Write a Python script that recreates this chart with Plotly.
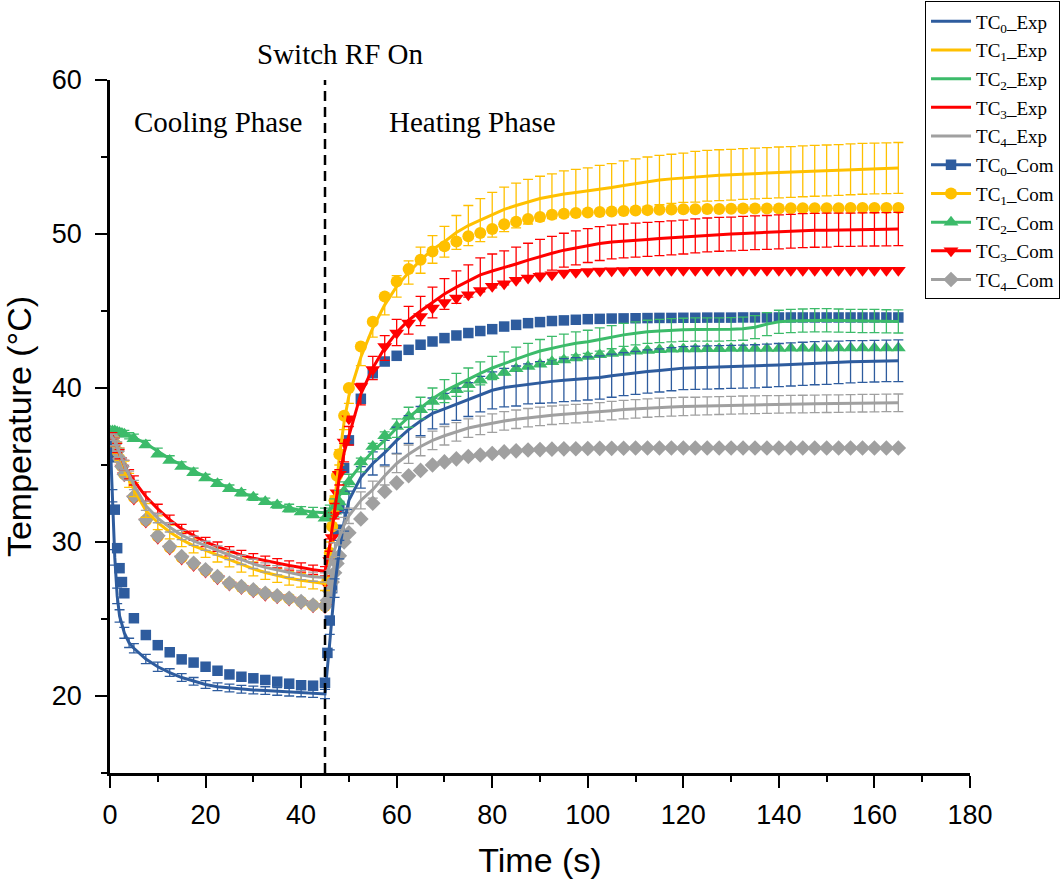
import plotly.graph_objects as go

# time axes (s)
t_exp = [0, 0.5, 1, 1.5, 2, 3, 4, 5, 7.5, 10, 12.5, 15, 17.5, 20, 22.5, 25, 27.5, 30, 32.5, 35, 37.5, 40, 42.5, 45,
         46, 47, 48, 49, 50,
         52.5, 55, 57.5, 60, 62.5, 65, 67.5, 70, 72.5, 75, 77.5, 80, 82.5, 85, 87.5, 90, 92.5, 95, 97.5, 100,
         102.5, 105, 107.5, 110, 112.5, 115, 117.5, 120, 122.5, 125, 127.5, 130, 132.5, 135, 137.5, 140, 142.5, 145, 147.5, 150,
         152.5, 155, 157.5, 160, 162.5, 165]

t_com = [0, 0.5, 1, 1.5, 2, 2.5, 3, 5, 7.5, 10, 12.5, 15, 17.5, 20, 22.5, 25, 27.5, 30, 32.5, 35, 37.5, 40, 42.5, 45,
         45.5, 46, 46.5, 47, 47.5, 48, 49, 50,
         52.5, 55, 57.5, 60, 62.5, 65, 67.5, 70, 72.5, 75, 77.5, 80, 82.5, 85, 87.5, 90, 92.5, 95, 97.5, 100,
         102.5, 105, 107.5, 110, 112.5, 115, 117.5, 120, 122.5, 125, 127.5, 130, 132.5, 135, 137.5, 140, 142.5, 145, 147.5, 150,
         152.5, 155, 157.5, 160, 162.5, 165]

# measured temperatures (deg C) and standard deviations
tc0_exp = [37.0, 33.0, 29.0, 26.5, 25.2, 24.1, 23.45, 23.1, 22.4, 21.9, 21.52, 21.2, 20.95, 20.75, 20.6, 20.52, 20.44, 20.39, 20.35, 20.3, 20.25, 20.2, 20.16, 20.13,
           23.5, 27.0, 29.5, 31.3, 32.7,
           34.2, 35.1, 35.8, 36.6, 37.3, 37.85, 38.35, 38.65, 38.95, 39.25, 39.6, 39.85, 40.03, 40.13, 40.27, 40.36, 40.43, 40.51, 40.57, 40.62,
           40.68, 40.8, 40.9, 40.98, 41.07, 41.14, 41.22, 41.29, 41.31, 41.33, 41.35, 41.37, 41.39, 41.41, 41.45, 41.49, 41.53, 41.57, 41.61, 41.64,
           41.67, 41.7, 41.72, 41.74, 41.76, 41.77]
tc0_err = [0, 0.4, 0.5, 0.5, 0.4, 0.35, 0.3, 0.3, 0.3, 0.3, 0.25, 0.25, 0.25, 0.25, 0.25, 0.25, 0.25, 0.25, 0.25, 0.25, 0.25, 0.25, 0.25, 0.3,
           0.5, 0.6, 0.6, 0.6, 0.6,
           0.7, 0.75, 0.8, 0.85, 0.9, 0.95, 1.0, 1.0, 1.05, 1.1, 1.15, 1.2, 1.25, 1.3, 1.3, 1.35, 1.4, 1.4, 1.4, 1.4,
           1.4, 1.4, 1.4, 1.4, 1.4, 1.4, 1.4, 1.4, 1.4, 1.4, 1.4, 1.4, 1.4, 1.4, 1.4, 1.4, 1.4, 1.4, 1.4, 1.4,
           1.38, 1.37, 1.36, 1.35, 1.35, 1.35]

tc1_exp = [37.0, 36.8, 36.5, 36.1, 35.7, 34.8, 34.0, 33.4, 32.05, 31.25, 30.65, 30.15, 29.75, 29.45, 29.15, 28.84, 28.5, 28.25, 28.02, 27.83, 27.65, 27.52, 27.4, 27.3,
           29.5, 32.5, 35.5, 37.8, 39.5,
           42.0, 43.9, 45.4, 46.6, 47.5, 48.3, 49.0, 49.5, 50.1, 50.55, 50.9, 51.25, 51.6, 51.85, 52.1, 52.3, 52.45, 52.6, 52.7, 52.8,
           52.9, 53.02, 53.15, 53.28, 53.4, 53.5, 53.58, 53.65, 53.72, 53.78, 53.82, 53.85, 53.9, 53.93, 53.96, 54.0, 54.03, 54.07, 54.1, 54.13,
           54.16, 54.2, 54.23, 54.25, 54.27, 54.29]
tc1_err = [0, 0.2, 0.3, 0.35, 0.4, 0.45, 0.45, 0.45, 0.45, 0.45, 0.45, 0.45, 0.45, 0.45, 0.45, 0.45, 0.45, 0.45, 0.45, 0.45, 0.45, 0.45, 0.45, 0.45,
           0.5, 0.5, 0.5, 0.5, 0.5,
           0.55, 0.6, 0.65, 0.7, 0.75, 0.85, 0.9, 1.0, 1.1, 1.3, 1.4, 1.45, 1.45, 1.45, 1.45, 1.45, 1.45, 1.5, 1.5, 1.5,
           1.55, 1.55, 1.6, 1.6, 1.6, 1.6, 1.6, 1.6, 1.65, 1.65, 1.65, 1.65, 1.65, 1.65, 1.65, 1.65, 1.65, 1.65, 1.65, 1.65,
           1.65, 1.65, 1.65, 1.65, 1.65, 1.65]

tc2_exp = [37.3, 37.3, 37.25, 37.2, 37.15, 37.05, 36.9, 36.8, 36.4, 35.9, 35.4, 35.0, 34.6, 34.2, 33.85, 33.5, 33.2, 32.9, 32.65, 32.4, 32.2, 32.05, 31.95, 31.9,
           32.1, 32.5, 33.0, 33.5, 34.0,
           35.0, 35.9, 36.6, 37.4, 38.1, 38.7, 39.3, 39.8, 40.2, 40.55, 40.95, 41.3, 41.6, 41.9, 42.15, 42.4, 42.6, 42.75, 42.9, 43.0,
           43.15, 43.3, 43.45, 43.55, 43.65, 43.7, 43.75, 43.78, 43.8, 43.8, 43.8, 43.82, 43.85, 43.95, 44.15, 44.3, 44.35, 44.38, 44.4, 44.4,
           44.38, 44.36, 44.35, 44.35, 44.33, 44.32]
tc2_err = [0, 0.1, 0.1, 0.15, 0.15, 0.2, 0.2, 0.2, 0.2, 0.2, 0.2, 0.2, 0.2, 0.2, 0.2, 0.2, 0.2, 0.2, 0.2, 0.2, 0.25, 0.25, 0.3, 0.3,
           0.3, 0.3, 0.35, 0.4, 0.4,
           0.45, 0.5, 0.55, 0.6, 0.65, 0.7, 0.7, 0.75, 0.75, 0.75, 0.75, 0.75, 0.75, 0.75, 0.75, 0.75, 0.75, 0.75, 0.75, 0.75,
           0.75, 0.75, 0.75, 0.75, 0.75, 0.75, 0.75, 0.75, 0.75, 0.75, 0.75, 0.75, 0.75, 0.75, 0.75, 0.75, 0.75, 0.75, 0.75, 0.75,
           0.75, 0.75, 0.75, 0.75, 0.75, 0.75]

tc3_exp = [37.1, 36.9, 36.5, 36.1, 35.7, 35.0, 34.4, 34.0, 32.95, 32.15, 31.45, 30.85, 30.4, 30.0, 29.7, 29.4, 29.15, 28.95, 28.78, 28.62, 28.48, 28.35, 28.2, 28.1,
           29.8, 32.0, 34.2, 35.8, 36.9,
           39.6, 41.3, 42.6, 43.6, 44.4, 45.0, 45.55, 46.1, 46.55, 46.95, 47.35, 47.6, 47.8, 48.05, 48.3, 48.55, 48.75, 48.95, 49.1, 49.25,
           49.38, 49.48, 49.55, 49.6, 49.65, 49.7, 49.75, 49.8, 49.88, 49.94, 49.98, 50.0, 50.04, 50.08, 50.1, 50.14, 50.18, 50.22, 50.24, 50.25,
           50.27, 50.28, 50.29, 50.3, 50.31, 50.32]
tc3_err = [0, 0.2, 0.25, 0.3, 0.3, 0.3, 0.3, 0.3, 0.3, 0.3, 0.3, 0.3, 0.3, 0.3, 0.3, 0.3, 0.3, 0.3, 0.3, 0.3, 0.3, 0.3, 0.3, 0.3,
           0.4, 0.5, 0.5, 0.6, 0.6,
           0.7, 0.75, 0.8, 0.85, 0.9, 0.95, 1.0, 1.0, 1.05, 1.05, 1.1, 1.1, 1.1, 1.1, 1.1, 1.1, 1.1, 1.1, 1.1, 1.1,
           1.1, 1.1, 1.1, 1.1, 1.1, 1.1, 1.1, 1.1, 1.1, 1.1, 1.1, 1.1, 1.1, 1.1, 1.1, 1.1, 1.1, 1.1, 1.1, 1.1,
           1.08, 1.08, 1.08, 1.08, 1.08, 1.08]

tc4_exp = [37.0, 36.8, 36.5, 36.2, 35.8, 35.0, 34.3, 33.7, 32.35, 31.55, 30.95, 30.45, 30.08, 29.75, 29.45, 29.15, 28.84, 28.58, 28.35, 28.17, 28.0, 27.86, 27.75, 27.7,
           28.5, 29.5, 30.3, 31.1, 31.7,
           32.7, 33.4, 34.3, 35.1, 35.7, 36.2, 36.6, 36.9, 37.15, 37.4, 37.57, 37.72, 37.86, 37.97, 38.07, 38.16, 38.23, 38.29, 38.34, 38.39,
           38.45, 38.53, 38.6, 38.65, 38.7, 38.74, 38.77, 38.8, 38.82, 38.84, 38.86, 38.88, 38.9, 38.91, 38.93, 38.94, 38.95, 38.96, 38.97, 38.98,
           38.99, 39.0, 39.01, 39.02, 39.03, 39.04]
tc4_err = [0, 0.2, 0.25, 0.3, 0.3, 0.3, 0.3, 0.3, 0.3, 0.3, 0.3, 0.3, 0.3, 0.3, 0.3, 0.3, 0.3, 0.3, 0.3, 0.3, 0.3, 0.3, 0.3, 0.3,
           0.4, 0.45, 0.5, 0.5, 0.5,
           0.55, 0.55, 0.6, 0.6, 0.6, 0.6, 0.6, 0.6, 0.6, 0.6, 0.6, 0.6, 0.6, 0.6, 0.6, 0.6, 0.6, 0.6, 0.6, 0.6,
           0.6, 0.6, 0.6, 0.6, 0.6, 0.6, 0.6, 0.6, 0.58, 0.58, 0.58, 0.58, 0.58, 0.58, 0.58, 0.57, 0.57, 0.57, 0.57, 0.57,
           0.57, 0.57, 0.57, 0.57, 0.57, 0.57]

# computed temperatures (deg C)
tc0_com = [37.0, 35.5, 32.1, 29.6, 28.3, 27.4, 26.67, 25.05, 23.96, 23.3, 22.84, 22.38, 22.17, 21.9, 21.64, 21.4, 21.25, 21.15, 21.04, 20.93, 20.8, 20.7, 20.67, 20.86,
           22.8, 24.9, 27.0, 29.0, 30.8, 32.3, 34.8, 36.6,
           39.3, 40.96, 41.72, 42.09, 42.48, 42.81, 43.02, 43.24, 43.41, 43.57, 43.7, 43.82, 43.99, 44.1, 44.21, 44.28, 44.35, 44.39, 44.43, 44.47,
           44.49, 44.51, 44.52, 44.53, 44.54, 44.55, 44.55, 44.56, 44.56, 44.57, 44.57, 44.57, 44.58, 44.58, 44.58, 44.58, 44.58, 44.58, 44.58, 44.58,
           44.58, 44.58, 44.58, 44.58, 44.58, 44.58]
tc1_com = [37.0, 36.8, 36.4, 35.9, 35.4, 34.9, 34.4, 32.9, 31.4, 30.35, 29.65, 29.0, 28.58, 28.15, 27.72, 27.3, 27.08, 26.87, 26.65, 26.48, 26.33, 26.12, 25.9, 25.85,
           27.5, 29.3, 31.0, 32.7, 34.3, 35.7, 38.2, 40.0,
           42.7, 44.3, 45.94, 46.92, 47.72, 48.33, 48.87, 49.2, 49.52, 49.85, 50.06, 50.32, 50.64, 50.8, 50.97, 51.1, 51.25, 51.32, 51.36, 51.4,
           51.43, 51.46, 51.5, 51.52, 51.55, 51.57, 51.59, 51.6, 51.61, 51.62, 51.63, 51.64, 51.65, 51.65, 51.66, 51.66, 51.67, 51.67, 51.68, 51.68,
           51.68, 51.69, 51.69, 51.69, 51.69, 51.69]
tc2_com = [37.2, 37.2, 37.2, 37.15, 37.1, 37.05, 37.0, 36.7, 36.3, 35.7, 35.3, 34.9, 34.5, 34.15, 33.78, 33.45, 33.18, 32.9, 32.62, 32.4, 32.15, 31.95, 31.75, 31.55,
           31.6, 31.7, 31.8, 32.0, 32.3, 32.6, 33.3, 33.9,
           35.2, 36.2, 36.9, 37.5, 38.15, 38.58, 39.12, 39.45, 39.88, 40.21, 40.5, 40.8, 41.0, 41.25, 41.4, 41.55, 41.7, 41.82, 41.94, 42.05,
           42.16, 42.24, 42.31, 42.38, 42.44, 42.48, 42.51, 42.53, 42.54, 42.55, 42.55, 42.56, 42.56, 42.57, 42.57, 42.57, 42.58, 42.58, 42.58, 42.58,
           42.59, 42.59, 42.59, 42.59, 42.59, 42.59]
tc3_com = [36.9, 36.7, 36.3, 35.8, 35.3, 34.8, 34.3, 32.8, 31.3, 30.25, 29.55, 28.9, 28.48, 28.05, 27.62, 27.2, 26.98, 26.77, 26.55, 26.38, 26.23, 26.02, 25.8, 25.75,
           27.2, 28.8, 30.3, 31.8, 33.2, 34.4, 36.5, 38.0,
           40.1, 41.2, 42.7, 43.57, 44.22, 44.65, 45.19, 45.56, 45.84, 46.06, 46.33, 46.6, 46.77, 46.99, 47.14, 47.25, 47.36, 47.46, 47.52, 47.57,
           47.6, 47.62, 47.63, 47.64, 47.64, 47.64, 47.64, 47.64, 47.64, 47.64, 47.64, 47.64, 47.64, 47.64, 47.64, 47.64, 47.64, 47.64, 47.64, 47.64,
           47.64, 47.64, 47.64, 47.64, 47.64, 47.64]
tc4_com = [37.0, 36.8, 36.4, 35.9, 35.4, 34.9, 34.4, 32.95, 31.44, 30.4, 29.7, 29.05, 28.62, 28.19, 27.75, 27.32, 27.1, 26.89, 26.67, 26.5, 26.35, 26.13, 25.91, 25.85,
           26.2, 26.8, 27.4, 28.0, 28.6, 29.1, 30.0, 30.6,
           31.5, 32.52, 33.28, 33.84, 34.3, 34.65, 35.0, 35.2, 35.4, 35.55, 35.65, 35.75, 35.85, 35.92, 35.97, 36.0, 36.03, 36.05, 36.06, 36.07,
           36.08, 36.08, 36.09, 36.1, 36.1, 36.1, 36.1, 36.1, 36.1, 36.1, 36.1, 36.1, 36.1, 36.1, 36.1, 36.1, 36.1, 36.1, 36.1, 36.1,
           36.1, 36.1, 36.1, 36.1, 36.1, 36.1]

switch_time = 45

BLUE, YELLOW, GREEN, RED, GRAY = "#2E5C9E", "#FFC000", "#3CBB6A", "#FF0000", "#A0A0A0"
SERIF = "Liberation Serif, Times New Roman, serif"
SANS = "Liberation Sans, Arial, sans-serif"

exp_series = [("TC<sub>0</sub>_Exp", tc0_exp, tc0_err, BLUE),
              ("TC<sub>1</sub>_Exp", tc1_exp, tc1_err, YELLOW),
              ("TC<sub>2</sub>_Exp", tc2_exp, tc2_err, GREEN),
              ("TC<sub>3</sub>_Exp", tc3_exp, tc3_err, RED),
              ("TC<sub>4</sub>_Exp", tc4_exp, tc4_err, GRAY)]
com_series = [("TC<sub>0</sub>_Com", tc0_com, BLUE, "square", 10.5),
              ("TC<sub>1</sub>_Com", tc1_com, YELLOW, "circle", 12),
              ("TC<sub>2</sub>_Com", tc2_com, GREEN, "triangle-up", 13),
              ("TC<sub>3</sub>_Com", tc3_com, RED, "triangle-down", 13),
              ("TC<sub>4</sub>_Com", tc4_com, GRAY, "diamond", 12)]

for s in exp_series:
    assert len(s[1]) == len(t_exp) and len(s[2]) == len(t_exp)
for s in com_series:
    assert len(s[1]) == len(t_com)

fig = go.Figure()

# computed points (markers only on the plot)
for name, y, col, sym, size in com_series:
    fig.add_trace(go.Scatter(x=t_com, y=y, mode="markers", showlegend=False,
                             marker=dict(symbol=sym, size=size, color=col, line=dict(width=0))))

# experimental curves with error bars
for i, (name, y, err, col) in enumerate(exp_series):
    fig.add_trace(go.Scatter(x=t_exp, y=y, mode="lines", name=name, legendgroup=name, legendrank=i + 1,
                             line=dict(color=col, width=3),
                             error_y=dict(type="data", array=err, color=col, thickness=1.3, width=5)))

# legend entries for the computed series (line + symbol)
for i, (name, y, col, sym, size) in enumerate(com_series):
    fig.add_trace(go.Scatter(x=[None], y=[None], mode="lines+markers", name=name, legendgroup=name,
                             legendrank=10 + i, line=dict(color=col, width=3),
                             marker=dict(symbol=sym, size=size, color=col, line=dict(width=0))))

fig.add_shape(type="line", xref="x", yref="y", x0=switch_time, x1=switch_time, y0=15, y1=60.5,
              line=dict(color="black", width=2.5, dash="10px,6px"), layer="above")

fig.add_annotation(x=48.2, y=1.0368, xref="x", yref="paper", yanchor="middle", text="Switch RF On",
                   showarrow=False, font=dict(family=SERIF, size=29, color="black"))
fig.add_annotation(x=22.7, y=57.3, xref="x", yref="y", yanchor="middle", text="Cooling Phase",
                   showarrow=False, font=dict(family=SERIF, size=29, color="black"))
fig.add_annotation(x=75.8, y=57.3, xref="x", yref="y", yanchor="middle", text="Heating Phase",
                   showarrow=False, font=dict(family=SERIF, size=29, color="black"))

axis_common = dict(showline=True, linecolor="black", linewidth=2.5, showgrid=False, zeroline=False,
                   ticks="outside", ticklen=12, tickwidth=2, tickcolor="black", automargin=False,
                   tickfont=dict(family=SANS, size=27, color="black"))

fig.update_xaxes(range=[0, 180], tickmode="linear", tick0=0, dtick=20,
                 minor=dict(ticks="outside", ticklen=6, tickwidth=2, tickcolor="black", dtick=10, tick0=0),
                 title=dict(text="Time (s)", font=dict(family=SANS, size=34, color="black"), standoff=20),
                 ticklabelstandoff=4, **axis_common)
fig.update_yaxes(range=[15, 60], tickmode="linear", tick0=0, dtick=10,
                 minor=dict(ticks="outside", ticklen=6, tickwidth=2, tickcolor="black", dtick=5, tick0=0),
                 title=dict(text="Temperature (°C)", font=dict(family=SANS, size=34, color="black"), standoff=12),
                 ticklabelstandoff=8, **axis_common)

fig.update_layout(
    width=1063, height=885,
    margin=dict(l=110, r=93, t=80, b=112, autoexpand=False),
    plot_bgcolor="white", paper_bgcolor="white",
    legend=dict(x=0.9477, y=1.1134, xanchor="left", yanchor="top",
                bordercolor="black", borderwidth=1, bgcolor="white",
                font=dict(family=SERIF, size=19, color="black"),
                tracegroupgap=1, itemwidth=40),
)

fig.write_html("out.html", config={"displayModeBar": False},
               post_script="document.body.style.margin='0';document.body.style.overflow='hidden';")
